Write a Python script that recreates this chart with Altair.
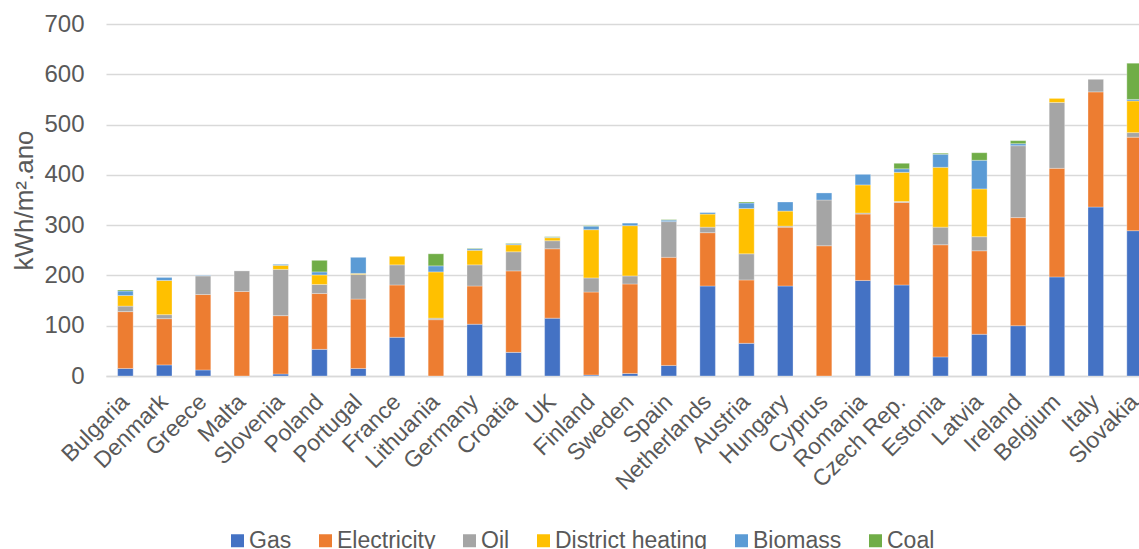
import altair as alt
import pandas as pd

# Residential final energy use per floor area, by energy carrier
countries = [
    "Bulgaria", "Denmark", "Greece", "Malta", "Slovenia", "Poland", "Portugal",
    "France", "Lithuania", "Germany", "Croatia", "UK", "Finland", "Sweden",
    "Spain", "Netherlands", "Austria", "Hungary", "Cyprus", "Romania",
    "Czech Rep.", "Estonia", "Latvia", "Ireland", "Belgium", "Italy", "Slovakia",
]
gas = [15, 22, 12, 0, 4, 53, 15, 77, 0, 103, 47, 115, 2, 5, 21, 179, 65, 179,
       0, 190, 181, 38, 83, 100, 197, 336, 289]
electricity = [113, 92, 150, 168, 116, 111, 138, 104, 112, 76, 162, 138, 165,
               178, 215, 106, 126, 117, 259, 132, 164, 223, 166, 215, 216, 229, 186]
oil = [11, 8, 37, 41, 92, 18, 49, 40, 3, 42, 38, 16, 28, 16, 71, 11, 52, 2,
       91, 2, 2, 35, 28, 143, 131, 25, 9]
district_heating = [21, 68, 0, 0, 8, 19, 2, 17, 92, 29, 14, 6, 96, 100, 0, 26,
                    90, 30, 0, 56, 58, 119, 95, 0, 8, 0, 63]
biomass = [9, 6, 1, 0, 2, 6, 32, 0, 12, 3, 2, 1, 7, 5, 3, 3, 11, 18, 14, 21,
           7, 26, 57, 4, 0, 0, 3]
coal = [2, 0, 0, 0, 0, 23, 0, 0, 24, 1, 1, 1, 1, 0, 1, 0, 2, 0, 0, 0, 11, 2,
        15, 6, 0, 0, 72]

sources = ["Gas", "Electricity", "Oil", "District heating", "Biomass", "Coal"]
colors = ["#4472C4", "#ED7D31", "#A5A5A5", "#FFC000", "#5B9BD5", "#70AD47"]
y_ticks = [0, 100, 200, 300, 400, 500, 600, 700]

series = [gas, electricity, oil, district_heating, biomass, coal]
rows = []
for idx, (name, values) in enumerate(zip(sources, series)):
    for country, v in zip(countries, values):
        if v > 0:
            rows.append({"country": country, "source": name, "value": v, "order": idx})
df = pd.DataFrame(rows)

FONT = "Liberation Sans"
TEXT = "#595959"
GRID = "#D9D9D9"

chart = alt.Chart(df).mark_bar(
    stroke="white", strokeWidth=0.6, strokeOpacity=0.5
).encode(
    x=alt.X(
        "country:N",
        sort=countries,
        scale=alt.Scale(range=[0, 1048], paddingInner=0.6, paddingOuter=0.3),
        axis=alt.Axis(
            title=None, labelAngle=-45, labelAlign="right", labelBaseline="middle",
            labelPadding=22, ticks=False, tickSize=0, grid=False,
            domainColor=GRID, domainWidth=1.5,
            labelFontSize=23, labelColor=TEXT, labelFont=FONT,
        ),
    ),
    y=alt.Y(
        "value:Q",
        stack="zero",
        scale=alt.Scale(domain=[0, 700], nice=False),
        axis=alt.Axis(
            values=y_ticks, title="kWh/m².ano", domain=False, ticks=False, tickSize=0,
            grid=True, gridColor=GRID, gridWidth=1.3,
            labelPadding=22, labelFontSize=24, labelColor=TEXT, labelFont=FONT,
            titleFontSize=26, titleFontWeight="normal", titleColor=TEXT, titleFont=FONT,
            titleAngle=270, titleX=-74, titleY=176, titleAlign="center",
            titleBaseline="alphabetic",
        ),
    ),
    color=alt.Color(
        "source:N",
        scale=alt.Scale(domain=sources, range=colors),
        legend=alt.Legend(
            title=None, orient="none", legendX=120, legendY=505, direction="horizontal",
            columns=6, symbolType="square", symbolSize=169, symbolStrokeWidth=0,
            labelFontSize=23, labelColor=TEXT, labelFont=FONT, labelOffset=0,
            columnPadding=22, labelLimit=400, padding=0,
        ),
    ),
    order=alt.Order("order:Q", sort="ascending"),
).properties(
    width=1033,
    height=352,
    background="white",
    autosize=alt.AutoSizeParams(type="none"),
    padding={"left": 106, "top": 24, "right": 0, "bottom": 173},
).configure_view(
    stroke=None
)

chart.save("out.html", embed_options={"renderer": "svg", "actions": False})
